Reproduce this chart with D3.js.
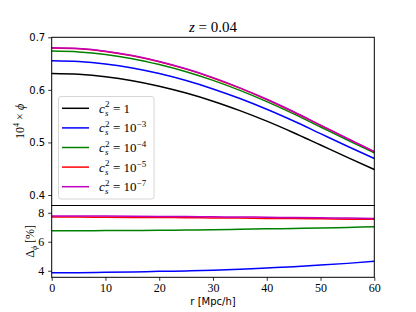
<!DOCTYPE html>
<html>
<head>
<meta charset="utf-8">
<script src="https://cdn.jsdelivr.net/npm/d3@7"></script>
<style>
  html, body { margin: 0; padding: 0; background: #fff; }
  svg text { fill: #000; }
</style>
</head>
<body>
<div id="chart"></div>
<script>
// radius in Mpc/h
const radii = [0, 5, 10, 15, 20, 25, 30, 35, 40, 45, 50, 55, 60];

// 10^4 x phi
const phiCs1 = [0.631, 0.6295, 0.625, 0.6175, 0.607, 0.594, 0.5785, 0.5605, 0.5405, 0.5185, 0.495, 0.4715, 0.4485];
const phiCs3 = [0.6554, 0.6539, 0.6493, 0.6417, 0.631, 0.6177, 0.6018, 0.5835, 0.5631, 0.5407, 0.5167, 0.4928, 0.4694];
const phiCs4 = [0.6737, 0.6721, 0.6673, 0.6594, 0.6482, 0.6345, 0.618, 0.599, 0.5777, 0.5544, 0.5294, 0.5045, 0.48];
const phiCs5 = [0.6796, 0.678, 0.6731, 0.6649, 0.6536, 0.6395, 0.6227, 0.6033, 0.5816, 0.5579, 0.5325, 0.5071, 0.4824];
const phiCs7 = [0.6801, 0.6785, 0.6736, 0.6654, 0.654, 0.64, 0.6232, 0.6037, 0.5821, 0.5583, 0.5329, 0.5075, 0.4826];

// Delta phi in %
const deltaCs3 = [3.86, 3.87, 3.89, 3.92, 3.96, 3.99, 4.03, 4.1, 4.19, 4.28, 4.39, 4.51, 4.65];
const deltaCs4 = [6.76, 6.76, 6.77, 6.78, 6.79, 6.81, 6.83, 6.86, 6.89, 6.92, 6.95, 6.99, 7.03];
const deltaCs5 = [7.70, 7.70, 7.69, 7.68, 7.67, 7.66, 7.64, 7.63, 7.61, 7.60, 7.58, 7.56, 7.55];
const deltaCs7 = [7.78, 7.78, 7.77, 7.76, 7.75, 7.74, 7.72, 7.71, 7.69, 7.67, 7.65, 7.63, 7.61];

const legendExp = ['', '−3', '−4', '−5', '−7'];
const colors = ['#000000', '#0000ff', '#008000', '#ff0000', '#bf00bf'];

const xTicks = [0, 10, 20, 30, 40, 50, 60];
const topTicks = [0.4, 0.5, 0.6, 0.7];
const botTicks = [4, 6, 8];

const W = 416, H = 312;
const left = 51.7, right = 374.3;
const topY0 = 37.3, splitY = 205.5, botY1 = 277.3;

const serif = '"Liberation Serif", "DejaVu Serif", serif';
const sans = '"DejaVu Sans", sans-serif';

const svg = d3.select('#chart').append('svg')
  .attr('width', W).attr('height', H);

const x = d3.scaleLinear().domain([0, 60]).range([left, right]);
const yTop = d3.scaleLinear().domain([0.38, 0.7]).range([splitY, topY0]);
const yBot = d3.scaleLinear().domain([3.55, 8.5]).range([botY1, splitY]);

function drawLines(series, y) {
  const line = d3.line()
    .x((d, i) => x(radii[i]))
    .y(d => y(d))
    .curve(d3.curveMonotoneX);
  series.forEach(s => {
    svg.append('path')
      .attr('d', line(s.values))
      .attr('fill', 'none')
      .attr('stroke', s.color)
      .attr('stroke-width', 1.5);
  });
}

drawLines([
  { values: phiCs1, color: colors[0] },
  { values: phiCs3, color: colors[1] },
  { values: phiCs4, color: colors[2] },
  { values: phiCs5, color: colors[3] },
  { values: phiCs7, color: colors[4] }
], yTop);

drawLines([
  { values: deltaCs3, color: colors[1] },
  { values: deltaCs4, color: colors[2] },
  { values: deltaCs5, color: colors[3] },
  { values: deltaCs7, color: colors[4] }
], yBot);

// axes frames
svg.append('rect')
  .attr('x', left).attr('y', topY0)
  .attr('width', right - left).attr('height', splitY - topY0)
  .attr('fill', 'none').attr('stroke', '#000').attr('stroke-width', 1);
svg.append('rect')
  .attr('x', left).attr('y', splitY)
  .attr('width', right - left).attr('height', botY1 - splitY)
  .attr('fill', 'none').attr('stroke', '#000').attr('stroke-width', 1);

// top y axis (sans ticks)
const gTop = svg.append('g')
  .attr('transform', `translate(${left},0)`)
  .call(d3.axisLeft(yTop).tickValues(topTicks).tickFormat(d3.format('.1f')).tickSizeOuter(0).tickSize(3.5).tickPadding(3));
gTop.select('.domain').remove();
gTop.selectAll('text').attr('font-family', sans).attr('font-size', 10).attr('fill', '#000');

// bottom y axis (serif ticks)
const gBot = svg.append('g')
  .attr('transform', `translate(${left},0)`)
  .call(d3.axisLeft(yBot).tickValues(botTicks).tickFormat(d3.format('d')).tickSizeOuter(0).tickSize(3.5).tickPadding(4));
gBot.select('.domain').remove();
gBot.selectAll('text').attr('font-family', serif).attr('font-size', 12).attr('fill', '#000');

// x axis
const gX = svg.append('g')
  .attr('transform', `translate(0,${botY1})`)
  .call(d3.axisBottom(x).tickValues(xTicks).tickFormat(d3.format('d')).tickSizeOuter(0).tickSize(3.5).tickPadding(3));
gX.select('.domain').remove();
gX.selectAll('text').attr('font-family', serif).attr('font-size', 12).attr('fill', '#000');

svg.selectAll('.tick line').attr('stroke', '#000').attr('stroke-width', 0.8);

// title
const title = svg.append('text')
  .attr('x', (left + right) / 2).attr('y', 32)
  .attr('text-anchor', 'middle')
  .attr('font-family', serif).attr('font-size', 15);
title.append('tspan').attr('font-style', 'italic').text('z');
title.append('tspan').text(' = 0.04');

// x label
svg.append('text')
  .attr('x', (left + right) / 2).attr('y', 305)
  .attr('text-anchor', 'middle')
  .attr('font-family', sans).attr('font-size', 10)
  .text('r [Mpc/h]');

// top y label: 10^4 x phi
const ylTop = svg.append('text')
  .attr('transform', `translate(24,${(topY0 + splitY) / 2}) rotate(-90)`)
  .attr('text-anchor', 'middle')
  .attr('font-family', serif).attr('font-size', 12);
ylTop.append('tspan').text('10');
ylTop.append('tspan').attr('font-size', 8).attr('dy', -5).text('4');
ylTop.append('tspan').attr('dy', 5).text(' × ');
ylTop.append('tspan').attr('font-style', 'italic').text('ϕ');

// bottom y label: Delta_phi [%]
const ylBot = svg.append('text')
  .attr('transform', `translate(34,${(splitY + botY1) / 2}) rotate(-90)`)
  .attr('text-anchor', 'middle')
  .attr('font-family', serif).attr('font-size', 12);
ylBot.append('tspan').text('Δ');
ylBot.append('tspan').attr('font-size', 8).attr('font-style', 'italic').attr('dy', 3).text('ϕ');
ylBot.append('tspan').attr('dy', -3).text(' [%]');

// legend
const lg = svg.append('g');
lg.append('rect')
  .attr('x', 58.5).attr('y', 96.5)
  .attr('width', 95.5).attr('height', 102.5)
  .attr('rx', 2.5)
  .attr('fill', '#fff').attr('fill-opacity', 0.8)
  .attr('stroke', '#cccccc').attr('stroke-width', 0.8);

const legendY = d3.scaleLinear().domain([0, 4]).range([108.3, 186.7]);
legendExp.forEach((e, i) => {
  const ly = legendY(i);
  lg.append('line')
    .attr('x1', 62).attr('x2', 89)
    .attr('y1', ly).attr('y2', ly)
    .attr('stroke', colors[i]).attr('stroke-width', 1.5);
  const tx = 99;
  lg.append('text')
    .attr('x', tx).attr('y', ly + 4.5)
    .attr('font-family', serif).attr('font-size', 13).attr('font-style', 'italic')
    .text('c');
  lg.append('text')
    .attr('x', tx + 6).attr('y', ly - 1)
    .attr('font-family', serif).attr('font-size', 9)
    .text('2');
  lg.append('text')
    .attr('x', tx + 6).attr('y', ly + 7.5)
    .attr('font-family', serif).attr('font-size', 9).attr('font-style', 'italic')
    .text('s');
  const t = lg.append('text')
    .attr('x', tx + 14).attr('y', ly + 4.5)
    .attr('font-family', serif).attr('font-size', 13);
  if (e === '') {
    t.text('= 1');
  } else {
    t.append('tspan').text('= 10');
    t.append('tspan').attr('font-size', 9).attr('dy', -5).text(e);
  }
});
</script>
</body>
</html>
